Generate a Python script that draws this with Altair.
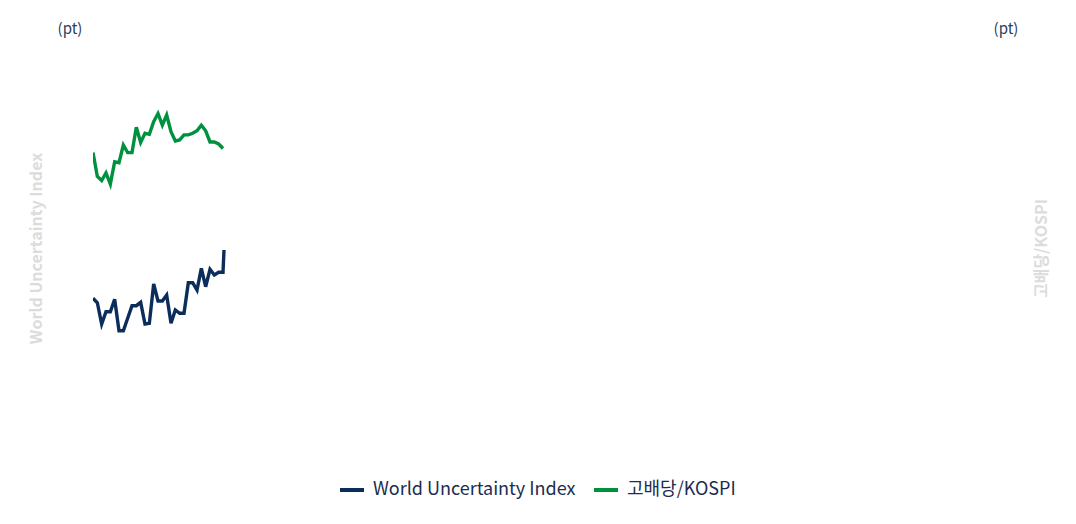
import altair as alt
import pandas as pd

FONT = "Noto Sans CJK KR"

# ---- data ----
wui_idx = list(range(31)) + [30.23]
wui_vals = [30090, 29220, 25020, 27450, 27450, 29890, 23700, 23700, 26150, 28630,
            28630, 29300, 25020, 25160, 32910, 29560, 29560, 30740, 25160, 27780,
            27130, 27130, 33160, 33160, 31720, 36000, 32370, 35800, 34680, 35210,
            35210, 39610]

kospi_idx = list(range(31))
kospi_vals = [118.8, 114.1, 113.3, 114.8, 112.6, 117.0, 116.8, 120.3, 118.8, 118.8,
              123.8, 120.8, 122.6, 122.4, 124.9, 126.5, 124.2, 126.2, 122.9, 121.1,
              121.3, 122.3, 122.3, 122.6, 123.1, 124.2, 123.1, 120.9, 120.9, 120.5,
              119.6]

series_names = ["World Uncertainty Index", "고배당/KOSPI"]
series_colors = ["#0b2d5b", "#00913f"]
unit_labels = ["(pt)", "(pt)"]

wui_df = pd.DataFrame({"t": wui_idx, "v": wui_vals, "series": series_names[0]})
kospi_df = pd.DataFrame({"t": kospi_idx, "v": kospi_vals, "series": series_names[1]})

W, H = 897, 406
x_scale = alt.Scale(domain=[0, 207], nice=False, zero=False)
color = alt.Color(
    "series:N",
    scale=alt.Scale(domain=series_names, range=series_colors),
    legend=alt.Legend(
        title=None, orient="none", direction="horizontal",
        legendX=245, legendY=431, padding=0,
        symbolType="stroke", symbolStrokeWidth=4, symbolSize=576,
        labelFont=FONT, labelFontSize=18, labelColor="#1b2d50",
        labelOffset=7, columnPadding=10, labelLimit=0,
    ),
)

title_common = dict(
    labels=False, ticks=False, domain=False, grid=False,
    titleFont=FONT, titleFontSize=16, titleFontWeight="bold",
    titleColor="#dcdcdc", titleAlign="center", titleBaseline="middle",
    titleY=203, titleAngle=270,
)

left = alt.Chart(wui_df).mark_line(strokeWidth=3.4, clip=True).encode(
    x=alt.X("t:Q", scale=x_scale, axis=None),
    y=alt.Y("v:Q", scale=alt.Scale(domain=[0, 80000], nice=False, zero=False),
            axis=alt.Axis(title=series_names[0], orient="left",
                          titleX=-57, **title_common)),
    color=color,
)

right = alt.Chart(kospi_df).mark_line(strokeWidth=3.4, clip=True).encode(
    x=alt.X("t:Q", scale=x_scale, axis=None),
    y=alt.Y("v:Q", scale=alt.Scale(domain=[60, 140], nice=False, zero=False),
            axis=alt.Axis(title=series_names[1], orient="right",
                          titleX=51, **title_common)),
    color=color,
)

units_df = pd.DataFrame({"label": unit_labels, "side": ["l", "r"]})
unit_l = alt.Chart(units_df[units_df.side == "l"]).mark_text(
    font=FONT, fontSize=15, color="#2f3d5a", align="center", baseline="middle"
).encode(x=alt.value(-23), y=alt.value(-16), text="label:N")
unit_r = alt.Chart(units_df[units_df.side == "r"]).mark_text(
    font=FONT, fontSize=15, color="#2f3d5a", align="center", baseline="middle"
).encode(x=alt.value(913), y=alt.value(-16), text="label:N")

chart = (
    alt.layer(left, right, unit_l, unit_r)
    .resolve_scale(y="independent")
    .properties(
        width=W, height=H,
        autosize=alt.AutoSizeParams(type="none"),
        padding={"left": 85, "top": 37, "right": 70, "bottom": 60},
        background="white",
    )
    .configure_view(stroke=None, strokeWidth=0)
)

chart.save("out.html", embed_options={"renderer": "svg", "actions": False})
